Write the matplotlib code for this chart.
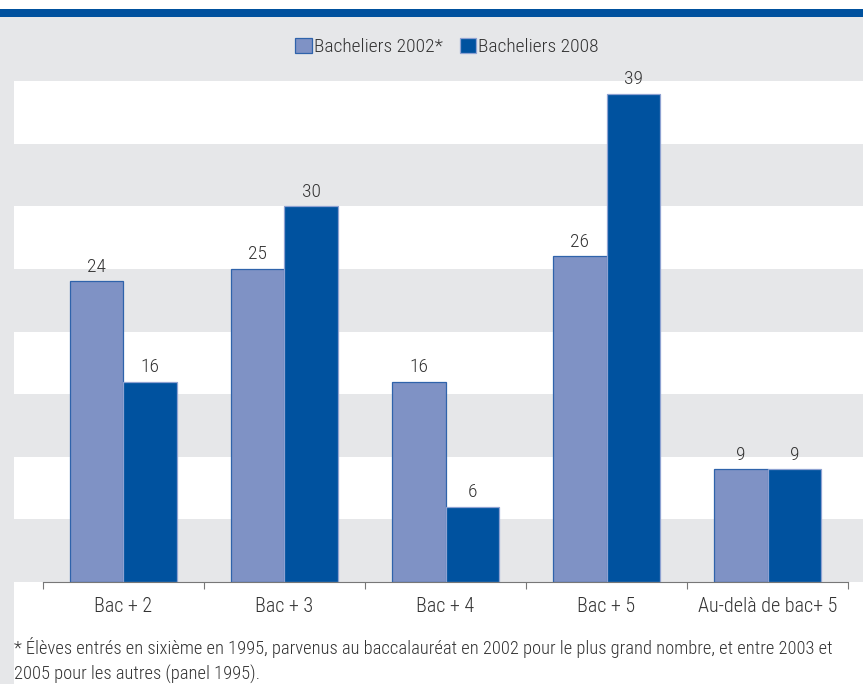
import matplotlib.pyplot as plt
import numpy as np
from matplotlib.patches import Rectangle

# Data
categories = ["Bac + 2", "Bac + 3", "Bac + 4", "Bac + 5", "Au-delà de bac+ 5"]
bach_2002 = [24, 25, 16, 26, 9]
bach_2008 = [16, 30, 6, 39, 9]
series_labels = ["Bacheliers 2002*", "Bacheliers 2008"]
footnote = ["* Élèves entrés en sixième en 1995, parvenus au baccalauréat en 2002 pour le plus grand nombre, et entre 2003 et",
            "2005 pour les autres (panel 1995)."]

plt.rcParams['font.family'] = ['Liberation Sans Narrow', 'DejaVu Sans Condensed',
                               'Roboto Condensed', 'Roboto', 'DejaVu Sans']
plt.rcParams['font.stretch'] = 'condensed'
plt.rcParams['font.weight'] = 'light'

GRAY = '#e6e7e9'
LIGHT = '#7f92c5'
DARK = '#00529f'
TXT = '#333333'

W, H = 863, 684
fig = plt.figure(figsize=(W / 100, H / 100), dpi=100, facecolor=GRAY)

# background pieces (figure coords)
fig.patches.append(Rectangle((0, 1 - 9 / H), 1, 9 / H, transform=fig.transFigure,
                             facecolor='white', edgecolor='none', zorder=-2))
fig.patches.append(Rectangle((0, 1 - 17 / H), 1, 8 / H, transform=fig.transFigure,
                             facecolor='#00519e', edgecolor='none', zorder=-2))
fig.patches.append(Rectangle((14 / W, 0), 1, 1 - 81 / H, transform=fig.transFigure,
                             facecolor='white', edgecolor='none', zorder=-2))

ax = fig.add_axes([14 / W, 1 - 582 / H, 1 - 14 / W, (582 - 81) / H])
ax.set_zorder(1)
ax.set_facecolor('white')
ax.set_xlim(-0.68, 4.593)
ax.set_ylim(0, 40)

# alternating bands
for y0 in range(0, 40, 10):
    ax.axhspan(y0, y0 + 5, color=GRAY, lw=0, zorder=0)

x = np.arange(len(categories))
w = 0.333
b1 = ax.bar(x - w / 2, bach_2002, width=w, color=LIGHT, edgecolor='#2f63ab',
            linewidth=0.9, zorder=2, label=series_labels[0])
b2 = ax.bar(x + w / 2, bach_2008, width=w, color=DARK, edgecolor='#8ea2d2',
            linewidth=0.9, zorder=2, label=series_labels[1])

for bars in (b1, b2):
    for b in bars:
        ax.annotate(f"{b.get_height():.0f}", (b.get_x() + b.get_width() / 2, b.get_height()),
                    xytext=(0, 4), textcoords='offset points', ha='center', va='bottom',
                    fontsize=14, color=TXT)

for s in ['top', 'right', 'left']:
    ax.spines[s].set_visible(False)
ax.spines['bottom'].set_bounds(-0.5, 4.5)
ax.spines['bottom'].set_color('#777777')
ax.spines['bottom'].set_zorder(3)
ax.set_yticks([])

ax.set_xticks(np.arange(-0.5, 5, 1))
ax.set_xticklabels([])
ax.tick_params(axis='x', which='major', length=5, color='#777777', direction='out')
ax.set_xticks(x, minor=True)
ax.set_xticklabels(categories, minor=True)
ax.tick_params(axis='x', which='minor', length=0, pad=11, labelsize=14.5, labelcolor=TXT)

leg = fig.legend(handles=[b1, b2], labels=series_labels, loc='center',
                 bbox_to_anchor=(447 / W, 1 - 47 / H), ncol=2, frameon=False,
                 handlelength=0.85, handleheight=0.85, handletextpad=0.1,
                 columnspacing=0.9, fontsize=14)
for t in leg.get_texts():
    t.set_color(TXT)

fig.text(14 / W, 1 - 648 / H, footnote[0], ha='left', va='center', fontsize=13.3, color=TXT)
fig.text(14 / W, 1 - 674 / H, footnote[1], ha='left', va='center', fontsize=13.3, color=TXT)

fig.savefig('out.png', dpi=100, facecolor=GRAY)
